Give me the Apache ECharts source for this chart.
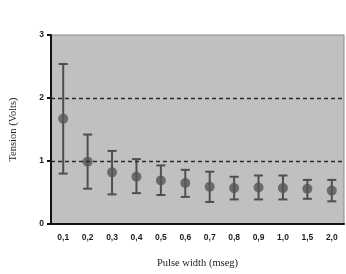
<!DOCTYPE html>
<html><head><meta charset="utf-8">
<script src="https://cdn.jsdelivr.net/npm/echarts@6/dist/echarts.min.js"></script>
<style>html,body{margin:0;padding:0;background:#fff}#c{width:346px;height:274px}</style>
</head><body><div id="c"></div>
<script>
const categories = ['0,1','0,2','0,3','0,4','0,5','0,6','0,7','0,8','0,9','1,0','1,5','2,0'];
const meanValues = [1.67, 0.99, 0.82, 0.75, 0.69, 0.65, 0.59, 0.57, 0.58, 0.57, 0.56, 0.53];
const upperValues = [2.54, 1.42, 1.16, 1.03, 0.93, 0.86, 0.83, 0.75, 0.77, 0.77, 0.70, 0.70];
const lowerValues = [0.80, 0.56, 0.47, 0.49, 0.46, 0.43, 0.35, 0.39, 0.39, 0.39, 0.40, 0.36];
const yTicks = [0, 1, 2, 3];
const refLines = [1, 2];

const errData = categories.map((c, i) => [i, lowerValues[i], upperValues[i]]);
const chart = echarts.init(document.getElementById('c'));
chart.setOption({
  animation: false,
  grid: {left: 44, right: 2, top: 35, bottom: 47, show: true, backgroundColor: '#c0c0c0', borderColor: '#8a8a8a', borderWidth: 1},
  xAxis: {
    type: 'category', data: categories,
    name: 'Pulse width (mseg)', nameLocation: 'middle', nameGap: 34,
    nameTextStyle: {fontFamily: 'Liberation Serif', fontSize: 10.5, color: '#222'},
    axisLine: {lineStyle: {color: '#111', width: 2}},
    axisTick: {alignWithLabel: true, length: 4, lineStyle: {color: '#111', width: 2}},
    axisLabel: {fontFamily: 'Liberation Sans', fontWeight: 'bold', fontSize: 8.5, color: '#222', margin: 9}
  },
  yAxis: {
    type: 'value', min: yTicks[0], max: yTicks[yTicks.length - 1], interval: 1,
    name: 'Tension (Volts)', nameLocation: 'middle', nameGap: 32,
    nameTextStyle: {fontFamily: 'Liberation Serif', fontSize: 10.5, color: '#222'},
    axisLine: {show: true, lineStyle: {color: '#111', width: 2}},
    axisTick: {show: true, length: 4, lineStyle: {color: '#111', width: 2}},
    axisLabel: {fontFamily: 'Liberation Sans', fontWeight: 'bold', fontSize: 8.5, color: '#222', margin: 7},
    splitLine: {show: false}
  },
  series: [
    {
      type: 'custom', data: errData, z: 3,
      renderItem: function (params, api) {
        const x = api.value(0);
        const lo = api.coord([x, api.value(1)]);
        const hi = api.coord([x, api.value(2)]);
        const hw = 4.5;
        const style = {stroke: '#4f4f4f', lineWidth: 2};
        return {type: 'group', children: [
          {type: 'line', shape: {x1: hi[0], y1: hi[1], x2: lo[0], y2: lo[1]}, style: style},
          {type: 'line', shape: {x1: hi[0] - hw, y1: hi[1], x2: hi[0] + hw, y2: hi[1]}, style: style},
          {type: 'line', shape: {x1: lo[0] - hw, y1: lo[1], x2: lo[0] + hw, y2: lo[1]}, style: style}
        ]};
      },
      markLine: {
        silent: true, symbol: 'none', label: {show: false},
        lineStyle: {color: '#2a2a2a', type: [4, 3], width: 1.3},
        data: refLines.map(v => ({yAxis: v}))
      }
    },
    {
      type: 'scatter', data: meanValues, symbol: 'circle', symbolSize: 10, z: 4,
      itemStyle: {color: '#555555'}
    }
  ]
});
</script></body></html>
